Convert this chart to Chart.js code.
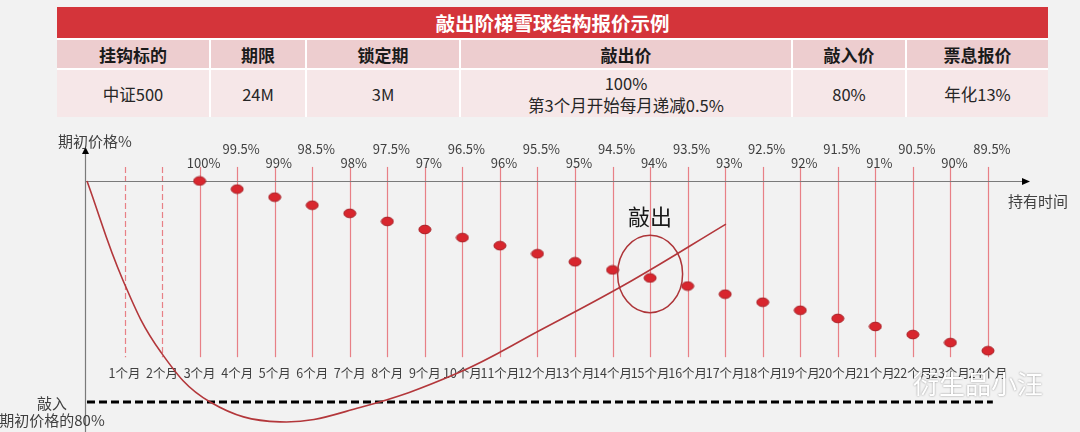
<!DOCTYPE html>
<html lang="zh">
<head>
<meta charset="utf-8">
<script src="https://cdn.jsdelivr.net/npm/chart.js@4.4.1/dist/chart.umd.min.js"></script>
<style>
  html, body { margin: 0; padding: 0; }
  body {
    width: 1080px; height: 432px; position: relative; overflow: hidden;
    background: #f2f2f2;
    font-family: 'Noto Sans CJK SC', sans-serif;
  }
  #quote {
    position: absolute; left: 57px; top: 7px; width: 991px;
    display: grid;
    grid-template-columns: 152px 94px 152px 330px 112px 141px;
    grid-template-rows: 31px 28px 47px;
    gap: 2px;
    background: #fff;
  }
  #quote div { display: flex; align-items: center; justify-content: center; text-align: center; }
  #quote .title { grid-column: 1 / -1; background: #d4343a; color: #fff; font-weight: bold; font-size: 19.5px; }
  #quote .head { background: #edcdcf; color: #1a1a1a; font-weight: bold; font-size: 17px; }
  #quote .cell { background: #f6e7e8; color: #262626; font-size: 16.5px; line-height: 22px; white-space: pre-line; }
  #chartBox { position: absolute; left: 0; top: 120px; width: 1080px; height: 312px; }
  #mark {
    position: absolute; left: 913px; top: 364px; font-size: 26px; color: #fff;
    text-shadow: 0 0 2px rgba(0,0,0,0.45);
  }
</style>
</head>
<body>
<div id="quote"></div>
<div id="chartBox"><canvas id="myChart" width="1080" height="312"></canvas></div>
<div id="mark">衍生品小汪</div>
<script>
(() => {
  'use strict'
  // table
  const tableTitle = '敲出阶梯雪球结构报价示例'
  const headers = ['挂钩标的', '期限', '锁定期', '敲出价', '敲入价', '票息报价']
  const terms = ['中证500', '24M', '3M', '100%\n第3个月开始每月递减0.5%', '80%', '年化13%']

  // chart data
  const months = [1, 2, 3, 4, 5, 6, 7, 8, 9, 10, 11, 12, 13, 14, 15, 16, 17, 18, 19, 20, 21, 22, 23, 24]
  const lockedMonths = [1, 2]
  const koMonths = [3, 4, 5, 6, 7, 8, 9, 10, 11, 12, 13, 14, 15, 16, 17, 18, 19, 20, 21, 22, 23, 24]
  const koLevels = [100, 99.5, 99, 98.5, 98, 97.5, 97, 96.5, 96, 95.5, 95, 94.5, 94, 93.5, 93, 92.5, 92, 91.5, 91, 90.5, 90, 89.5]
  // schematic path of the underlying (% of initial price)
  const pathMonths = [0, 0.96, 1.97, 3.28, 5.14, 7.27, 9.86, 12.07, 14.52, 17.02]
  const pathLevels = [100, 91.0, 84.5, 80.0, 78.2, 79.5, 82.6, 86.5, 91.0, 96.1]
  const knockInLevel = 80
  const knockInEnd = 24.13
  const knockOutMonth = 15

  const quote = document.getElementById('quote')
  const add = (cls, txt) => {
    const d = document.createElement('div')
    d.className = cls
    d.textContent = txt
    quote.appendChild(d)
  }
  add('title', tableTitle)
  headers.forEach(h => add('head', h))
  terms.forEach(t => add('cell', t))

  const FONT = "'Noto Sans CJK SC', sans-serif"
  const GUIDE_TOP = 100.87
  const GUIDE_BOTTOM = 89.1
  const AXIS_TOP = 102.1
  const AXIS_END = 25.12

  // ellipse marker
  const dot = document.createElement('canvas')
  dot.width = 14
  dot.height = 11
  const g = dot.getContext('2d')
  g.beginPath()
  g.ellipse(7, 5.5, 6, 4.3, 0, 0, Math.PI * 2)
  g.fillStyle = '#d8262e'
  g.fill()
  g.strokeStyle = '#a51d23'
  g.lineWidth = 1
  g.stroke()

  const diagram = {
    id: 'diagram',
    beforeDatasetsDraw(chart) {
      const {ctx} = chart
      const {x, y} = chart.scales
      const top = y.getPixelForValue(GUIDE_TOP)
      const bottom = y.getPixelForValue(GUIDE_BOTTOM)
      ctx.save()
      // month guides
      months.forEach(m => {
        const px = Math.round(x.getPixelForValue(m)) + 0.5
        ctx.beginPath()
        ctx.setLineDash(lockedMonths.includes(m) ? [6, 3] : [])
        ctx.strokeStyle = 'rgba(228, 90, 98, 0.75)'
        ctx.lineWidth = 1.2
        ctx.moveTo(px, top)
        ctx.lineTo(px, bottom)
        ctx.stroke()
      })
      ctx.setLineDash([])
      // axes
      const ox = Math.round(x.getPixelForValue(0)) - 1.5
      const oy = Math.round(y.getPixelForValue(100)) + 0.5
      const tip = y.getPixelForValue(AXIS_TOP)
      const end = x.getPixelForValue(AXIS_END)
      ctx.strokeStyle = '#7a7a7a'
      ctx.lineWidth = 1.2
      ctx.beginPath()
      ctx.moveTo(ox, tip + 6)
      ctx.lineTo(ox, chart.height)
      ctx.moveTo(ox, oy)
      ctx.lineTo(end - 7, oy)
      ctx.stroke()
      ctx.fillStyle = '#000'
      ctx.beginPath()
      ctx.moveTo(ox, tip)
      ctx.lineTo(ox - 3.5, tip + 7)
      ctx.lineTo(ox + 3.5, tip + 7)
      ctx.fill()
      ctx.beginPath()
      ctx.moveTo(end, oy)
      ctx.lineTo(end - 8, oy - 3.5)
      ctx.lineTo(end - 8, oy + 3.5)
      ctx.fill()
      ctx.restore()
    },
    afterDatasetsDraw(chart) {
      const {ctx} = chart
      const {x, y, y2} = chart.scales
      const ox = x.getPixelForValue(0)
      const oy = y.getPixelForValue(100)
      ctx.save()
      ctx.textAlign = 'center'
      ctx.textBaseline = 'middle'
      // knock-out level labels, staggered
      ctx.fillStyle = '#404040'
      ctx.font = '13px ' + FONT
      const meta = chart.getDatasetMeta(0)
      meta.data.forEach((pt, i) => {
        const dy = koMonths[i] % 2 === 0 ? -32 : -18
        ctx.fillText(koLevels[i] + '%', pt.x + 4, oy + dy)
      })
      // axis titles
      ctx.font = '15px ' + FONT
      ctx.fillText('期初价格%', ox + 8, y.getPixelForValue(AXIS_TOP) - 6)
      ctx.fillText('持有时间', x.getPixelForValue(AXIS_END) + 8, oy + 20)
      const ki = y2.getPixelForValue(knockInLevel)
      ctx.fillText('敲入', ox - 35, ki + 1)
      ctx.fillText('期初价格的80%', ox - 35, ki + 18)
      // knock-out circle
      const ko = meta.data[koMonths.indexOf(knockOutMonth)]
      ctx.strokeStyle = '#ad3438'
      ctx.lineWidth = 1.5
      ctx.beginPath()
      ctx.ellipse(ko.x, ko.y - 4, 32.5, 38.7, 0, 0, Math.PI * 2)
      ctx.stroke()
      ctx.fillStyle = '#1a1a1a'
      ctx.font = '22px ' + FONT
      ctx.fillText('敲出', ko.x, ko.y - 61)
      ctx.restore()
    }
  }

  const ctx = document.getElementById('myChart')
  // eslint-disable-next-line no-unused-vars
  const myChart = new Chart(ctx, {
    type: 'line',
    data: {
      datasets: [{
        label: '敲出价',
        data: koMonths.map((m, i) => ({x: m, y: koLevels[i]})),
        yAxisID: 'y',
        showLine: false,
        pointStyle: dot,
        pointRadius: 6,
        pointHoverRadius: 6
      }, {
        label: '标的价格',
        data: pathMonths.map((m, i) => ({x: m, y: pathLevels[i]})),
        yAxisID: 'y2',
        borderColor: '#b3373b',
        borderWidth: 1.6,
        pointRadius: 0,
        tension: 0.4,
        fill: false
      }, {
        label: '敲入价',
        data: [{x: 0, y: knockInLevel}, {x: knockInEnd, y: knockInLevel}],
        yAxisID: 'y2',
        borderColor: '#000',
        borderWidth: 3,
        borderDash: [8, 4],
        pointRadius: 0
      }]
    },
    options: {
      responsive: false,
      animation: false,
      events: [],
      layout: {padding: 0, autoPadding: false},
      plugins: {
        legend: {display: false},
        tooltip: {enabled: false}
      },
      scales: {
        x: {
          type: 'linear',
          min: -2.3175,
          max: 26.452,
          position: {y: 88.75},
          grid: {display: false, drawTicks: false},
          border: {display: false},
          afterBuildTicks: s => { s.ticks = months.map(m => ({value: m})) },
          ticks: {
            autoSkip: false,
            maxRotation: 0,
            padding: 3,
            color: '#404040',
            font: {family: FONT, size: 12.5},
            callback: v => v + '个月'
          }
        },
        y: {display: false, min: 84.470, max: 103.774},
        y2: {display: false, min: 77.285, max: 105.52}
      }
    },
    plugins: [diagram]
  })
})()
</script>
</body>
</html>
